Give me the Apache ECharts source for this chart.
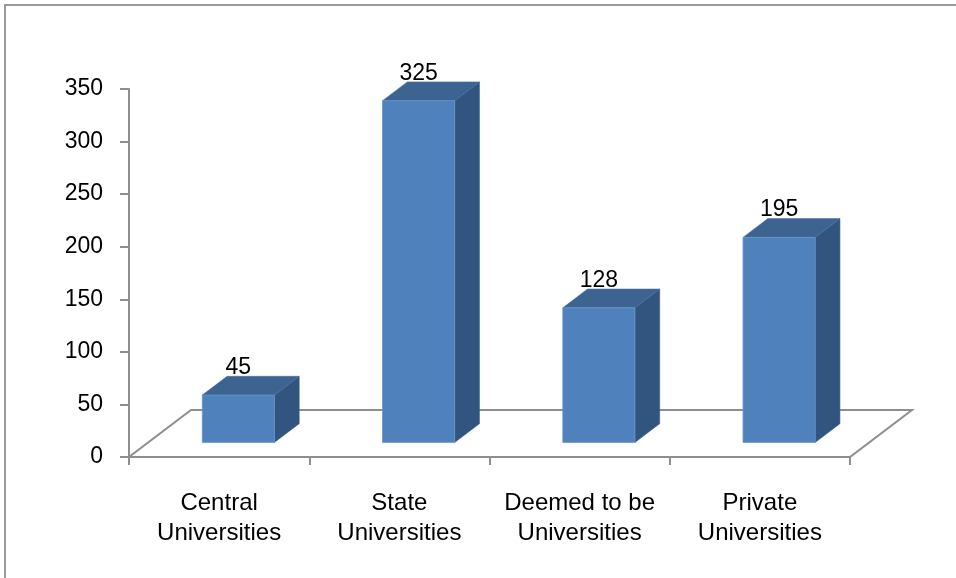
<!DOCTYPE html>
<html>
<head>
<meta charset="utf-8">
<script src="https://cdn.jsdelivr.net/npm/echarts@6/dist/echarts.min.js"></script>
<style>
  html, body { margin: 0; padding: 0; background: #ffffff; }
  #chart { width: 956px; height: 578px; }
</style>
</head>
<body>
<div id="chart"></div>
<script>
// Number of universities by type
const categories = [
  'Central\nUniversities',
  'State\nUniversities',
  'Deemed to be\nUniversities',
  'Private\nUniversities'
];
const counts = [45, 325, 128, 195];
const yTicks = { min: 0, max: 350, interval: 50 };

// Oblique 3D look: depth of the floor and where bars sit within it
const DEPTH_X = 62;
const DEPTH_Y = -47;
const FRONT_FRAC = 0.31;     // bar front plane, as a fraction of floor depth
const BAR_DEPTH_FRAC = 0.4;  // bar depth, as a fraction of floor depth
const BAR_RATIO = 0.4;       // bar width, as a fraction of category band

const FONT = '"Liberation Sans", Arial, sans-serif';
const AXIS_GREY = '#8e8e8e';

const chart = echarts.init(document.getElementById('chart'));

function renderFloor(params) {
  const cs = params.coordSys;
  const bx = cs.x, by = cs.y + cs.height, w = cs.width;
  return {
    type: 'polygon',
    shape: {
      points: [
        [bx, by], [bx + w, by],
        [bx + w + DEPTH_X, by + DEPTH_Y], [bx + DEPTH_X, by + DEPTH_Y]
      ]
    },
    style: { fill: 'none', stroke: AXIS_GREY, lineWidth: 2 }
  };
}

function renderBar(params, api) {
  const idx = api.value(0);
  const val = api.value(1);
  const base = api.coord([idx, 0]);
  const top = api.coord([idx, val]);
  const band = api.size([1, 0])[0];
  const w = band * BAR_RATIO;
  const ox = DEPTH_X * FRONT_FRAC, oy = DEPTH_Y * FRONT_FRAC;
  const dx = DEPTH_X * BAR_DEPTH_FRAC, dy = DEPTH_Y * BAR_DEPTH_FRAC;
  const x0 = base[0] - w / 2 + ox, x1 = x0 + w;
  const yb = base[1] + oy, yt = top[1] + oy;
  return {
    type: 'group',
    children: [
      {
        type: 'polygon',
        shape: { points: [[x1, yt], [x1 + dx, yt + dy], [x1 + dx, yb + dy], [x1, yb]] },
        style: { fill: '#325580', stroke: '#3a5f8c', lineWidth: 0.6 }
      },
      {
        type: 'polygon',
        shape: { points: [[x0, yt], [x1, yt], [x1 + dx, yt + dy], [x0 + dx, yt + dy]] },
        style: { fill: '#3d6491', stroke: '#4570a2', lineWidth: 0.6 }
      },
      {
        type: 'rect',
        shape: { x: x0, y: yt, width: w, height: yb - yt },
        style: { fill: '#4f81bd', stroke: '#6a95c9', lineWidth: 0.8 }
      },
      {
        type: 'text',
        style: {
          x: (x0 + x1) / 2,
          y: yt + dy + 3,
          text: String(val),
          align: 'center',
          verticalAlign: 'bottom',
          font: '23px ' + FONT,
          fill: '#000000'
        }
      }
    ]
  };
}

chart.setOption({
  animation: false,
  backgroundColor: '#ffffff',
  graphic: [{
    type: 'rect',
    shape: { x: 5, y: 5, width: 1000, height: 700 },
    style: { fill: 'none', stroke: '#9a9a9a', lineWidth: 2 },
    z: 0
  }],
  grid: { left: 129, right: 106, top: 89, bottom: 121, containLabel: false },
  xAxis: {
    type: 'category',
    data: categories,
    boundaryGap: true,
    axisLine: { show: true, lineStyle: { color: AXIS_GREY, width: 2 } },
    axisTick: { show: true, length: 8, inside: false, lineStyle: { color: AXIS_GREY, width: 2 } },
    axisLabel: {
      color: '#000000', fontFamily: FONT, fontSize: 24,
      lineHeight: 30, margin: 31, interval: 0
    },
    splitLine: { show: false }
  },
  yAxis: {
    type: 'value',
    min: yTicks.min, max: yTicks.max, interval: yTicks.interval,
    axisLine: { show: true, lineStyle: { color: AXIS_GREY, width: 2 } },
    axisTick: { show: true, length: 9, inside: false, lineStyle: { color: AXIS_GREY, width: 2 } },
    axisLabel: { color: '#000000', fontFamily: FONT, fontSize: 23, margin: 26 },
    splitLine: { show: false }
  },
  series: [
    {
      type: 'custom',
      silent: true,
      z: 1,
      data: [[0, 0]],
      renderItem: renderFloor
    },
    {
      type: 'custom',
      z: 3,
      data: counts.map((v, i) => [i, v]),
      encode: { x: 0, y: 1 },
      renderItem: renderBar
    }
  ]
});
</script>
</body>
</html>
